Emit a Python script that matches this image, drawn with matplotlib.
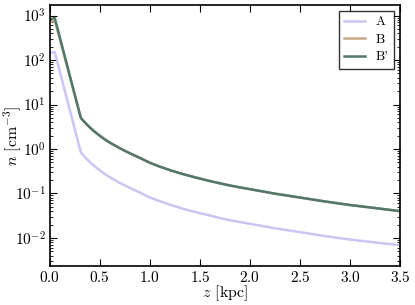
import numpy as np
import matplotlib
matplotlib.use("Agg")
import matplotlib.pyplot as plt

# classic-ish look: serif text, ticks pointing in on all four sides
plt.rcParams.update({
    "font.family": "serif",
    "font.serif": ["cmr10", "DejaVu Serif"],
    "mathtext.fontset": "cm",
    "axes.formatter.use_mathtext": True,
    "font.size": 11,
    "xtick.direction": "in",
    "ytick.direction": "in",
    "xtick.top": True,
    "ytick.right": True,
    "xtick.major.size": 5,
    "ytick.major.size": 5,
    "xtick.minor.size": 2.5,
    "ytick.minor.size": 2.5,
    "axes.linewidth": 1.2,
})

# values
z = [0.0, 0.05, 0.31, 0.35, 0.4, 0.45, 0.5, 0.55, 0.6, 0.65, 0.7, 0.75,
     0.8, 0.85, 0.9, 0.95, 1.0, 1.1, 1.2, 1.3, 1.4, 1.5, 1.6, 1.7, 1.8,
     1.9, 2.0, 2.25, 2.5, 2.75, 3.0, 3.25, 3.5]
n_A = [145, 150, 0.84, 0.66, 0.51, 0.405, 0.33, 0.273, 0.232, 0.20, 0.173,
       0.152, 0.133, 0.118, 0.105, 0.092, 0.081, 0.067, 0.056, 0.0475,
       0.041, 0.036, 0.032, 0.028, 0.025, 0.0228, 0.0208, 0.0165, 0.0135,
       0.011, 0.0092, 0.0079, 0.0069]
n_B = [700, 780, 5.0, 3.95, 3.05, 2.43, 1.98, 1.64, 1.39, 1.20, 1.04, 0.91,
       0.80, 0.71, 0.63, 0.555, 0.49, 0.40, 0.335, 0.285, 0.247, 0.216,
       0.19, 0.169, 0.151, 0.137, 0.125, 0.099, 0.081, 0.066, 0.055, 0.047,
       0.040]
n_Bp = [820, 880, 5.0, 3.95, 3.05, 2.43, 1.98, 1.64, 1.39, 1.20, 1.04, 0.91,
        0.80, 0.71, 0.63, 0.555, 0.49, 0.40, 0.335, 0.285, 0.247, 0.216,
        0.19, 0.169, 0.151, 0.137, 0.125, 0.099, 0.081, 0.066, 0.055, 0.047,
        0.040]

labels = ["A", "B", "B'"]
colors = ["#cdc4f4", "#c8a98a", "#52786a"]

fig = plt.figure(figsize=(4.15, 3.05), dpi=100)
ax = fig.add_axes([0.12, 0.128, 0.844, 0.856])

for n, lab, c in zip([n_A, n_B, n_Bp], labels, colors):
    ax.plot(z, n, color=c, lw=1.8, label=lab)

ax.set_yscale("log")
ax.set_xlim(0, 3.5)
ax.set_ylim(10 ** -2.63, 10 ** 3.24)
ax.set_xticks(np.arange(0, 3.51, 0.5))
ax.set_xlabel("$z$ [kpc]", fontsize=11.5, labelpad=-1)
ax.set_ylabel("$n$ [cm$^{-3}$]", fontsize=11.5)
ax.yaxis.set_label_coords(-0.075, 0.5)
ax.tick_params(labelsize=11, pad=3)

ax.legend(loc="upper right", fancybox=False, edgecolor="black",
          handlelength=1.6, fontsize=9.5, borderaxespad=0.45,
          labelspacing=0.4)

fig.savefig("out.png", dpi=100)
